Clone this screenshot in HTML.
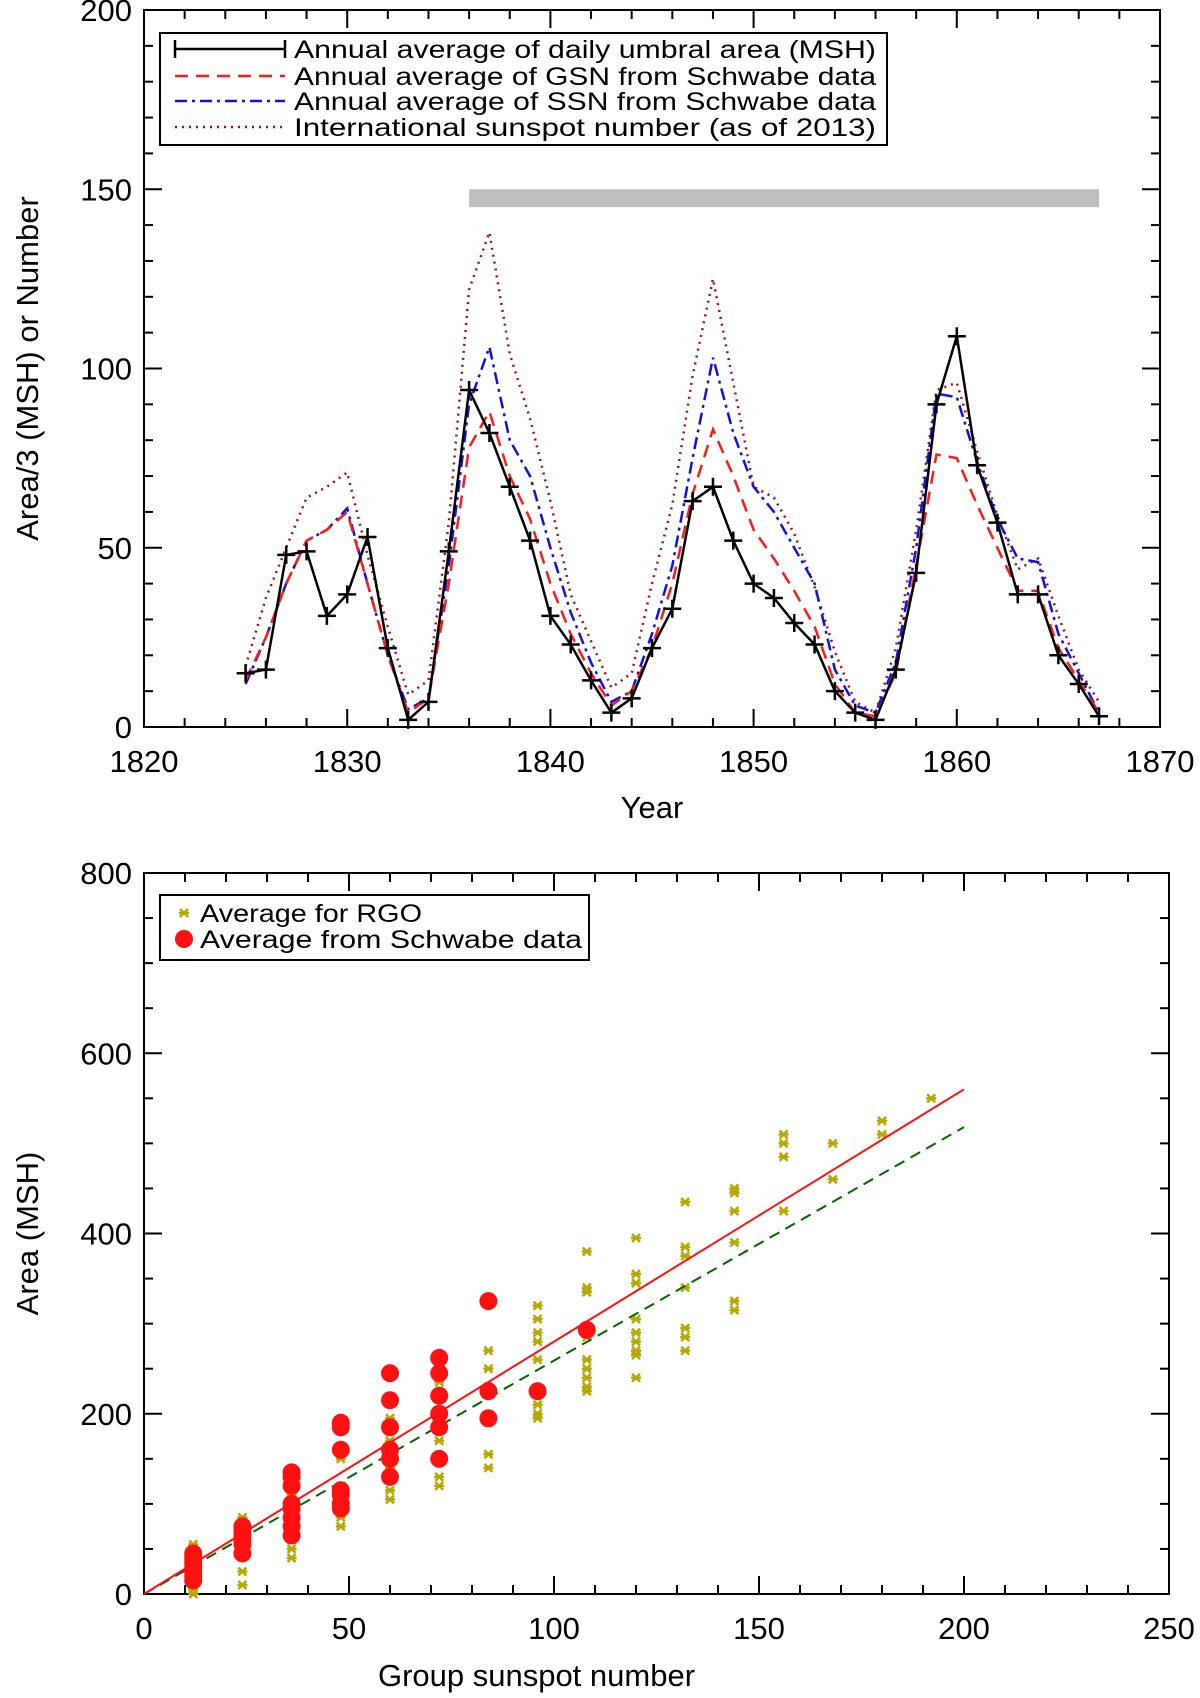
<!DOCTYPE html>
<html><head><meta charset="utf-8"><style>
html,body{margin:0;padding:0;background:#fff;}
svg{display:block;font-family:"Liberation Sans",sans-serif;}
</style></head><body>
<svg id="svg" width="1200" height="1698" xmlns="http://www.w3.org/2000/svg">
<g id="top"></g>
<g id="bot"></g>
</svg>
<script>
const years=[1825,1826,1827,1828,1829,1830,1831,1832,1833,1834,1835,1836,1837,1838,1839,1840,1841,1842,1843,1844,1845,1846,1847,1848,1849,1850,1851,1852,1853,1854,1855,1856,1857,1858,1859,1860,1861,1862,1863,1864,1865,1866,1867];
const umbralArea=[15,16,48,49,31,37,53,22,2,7,49,94,82,67,52,31,23,13,4,8,22,33,63,67,52,40,36,29,23,10,4,2,16,43,90,109,73,57,37,37,20,12,3];
const gsn=[13,25,40,52,55,60,40,20,4,8,40,78,88,70,58,40,26,15,6,10,22,40,65,83,70,55,47,38,28,12,4,3,15,45,76,75,62,50,38,38,22,13,4];
const ssn=[12,25,40,52,55,61,40,20,5,8,45,90,106,80,70,50,32,18,7,10,26,45,75,103,82,67,60,50,40,16,6,4,18,50,93,92,74,58,47,46,26,15,4];
const isn=[17,36,50,64,67,71,48,28,9,13,57,122,138,104,86,63,37,24,11,15,40,62,98,125,96,67,64,54,39,21,7,4,22,55,94,96,77,59,44,47,31,16,7];
const topXTicks=[1820,1830,1840,1850,1860,1870];
const topYTicks=[0,50,100,150,200];
const rgoX=[12,12,12,12,12,12,24,24,24,24,24,24,36,36,36,36,36,48,48,48,48,48,60,60,60,60,60,72,72,72,72,72,84,84,84,84,84,84,96,96,96,96,96,96,96,96,108,108,108,108,108,108,108,108,108,120,120,120,120,120,120,120,120,120,132,132,132,132,132,132,132,144,144,144,144,144,144,156,156,156,156,168,168,180,180,192];
const rgoY=[0,5,20,30,45,55,10,25,45,60,75,85,40,50,60,80,110,75,85,100,120,150,105,115,140,170,195,120,130,150,170,235,140,155,190,230,250,270,195,200,210,260,280,290,305,320,225,230,240,250,260,285,335,340,380,240,265,270,280,290,305,345,355,395,270,285,295,340,375,385,435,315,325,390,425,445,450,425,485,500,510,460,500,510,525,550];
const schX=[12,12,12,12,12,12,12,24,24,24,24,24,24,36,36,36,36,36,36,36,36,48,48,48,48,48,48,48,60,60,60,60,60,60,72,72,72,72,72,72,84,84,84,96,108];
const schY=[15,20,25,30,35,40,45,45,55,60,65,70,75,65,75,85,95,100,120,130,135,95,100,110,115,160,185,190,130,150,160,185,215,245,150,185,200,220,245,262,195,225,325,225,293];
const fitSlopes=[2.8,2.59];
const botXTicks=[0,50,100,150,200,250];
const botYTicks=[0,200,400,600,800];
const NS="http://www.w3.org/2000/svg";
function mk(parent,tag,attrs,text){const e=document.createElementNS(NS,tag);for(const k in attrs)e.setAttribute(k,attrs[k]);if(text!==undefined)e.textContent=text;parent.appendChild(e);return e;}

// ---------- top chart ----------
const T=document.getElementById('top');
const tL=144,tR=1160,tT=10,tB=727;
const tx=v=>tL+(v-1820)/50*(tR-tL);
const ty=v=>tB-(v/200)*(tB-tT);
let r=mk(T,'rect',{x:tL,y:tT,width:tR-tL,height:tB-tT,fill:'none',stroke:'#000','stroke-width':2});


for(let y=1820;y<=1870;y+=2){const big=y%10===0;const l=big?18:9;
 mk(T,'line',{x1:tx(y),x2:tx(y),y1:tB,y2:tB-l,stroke:'#000','stroke-width':2});
 mk(T,'line',{x1:tx(y),x2:tx(y),y1:tT,y2:tT+l,stroke:'#000','stroke-width':2});}
for(let v=0;v<=200;v+=10){const big=v%50===0;const l=big?18:9;
 mk(T,'line',{x1:tL,x2:tL+l,y1:ty(v),y2:ty(v),stroke:'#000','stroke-width':2});
 mk(T,'line',{x1:tR,x2:tR-l,y1:ty(v),y2:ty(v),stroke:'#000','stroke-width':2});}
topXTicks.forEach(v=>{const t=mk(T,'text',{x:tx(v),y:tB+45,'text-anchor':'middle','font-size':31,fill:'#000'},String(v));
 
 });
topYTicks.forEach(v=>{const t=mk(T,'text',{x:tL-12,y:ty(v)+11,'text-anchor':'end','font-size':31,fill:'#000'},String(v));
 
 });
let t=mk(T,'text',{x:(tL+tR)/2,y:tB+91,'text-anchor':'middle','font-size':31,fill:'#000'},'Year');


t=mk(T,'text',{x:0,y:0,transform:`translate(38,${ty(100)}) rotate(-90)`,'text-anchor':'middle','font-size':31,fill:'#000'},'Area/3 (MSH) or Number');


// gray bar
r=mk(T,'rect',{x:tx(1836),y:ty(150),width:tx(1867)-tx(1836),height:ty(145)-ty(150),fill:'#bebebe'});


function series(arr,attrs,name){const p=arr.map((v,i)=>`${i?'L':'M'}${tx(years[i]).toFixed(1)},${ty(v).toFixed(1)}`).join('');
 const e=mk(T,'path',Object.assign({d:p,fill:'none'},attrs));
 
 return e;}
series(isn,{stroke:'#a01010','stroke-width':2.5,'stroke-dasharray':'2 5'},'isn-line');
series(ssn,{stroke:'#1010e0','stroke-width':2.5,'stroke-dasharray':'12 5 3 5'},'ssn-line');
series(gsn,{stroke:'#ff1a1a','stroke-width':2.5,'stroke-dasharray':'13 8'},'gsn-line');
series(umbralArea,{stroke:'#000','stroke-width':2.5},'umbral-area-line');
umbralArea.forEach((v,i)=>{const x=tx(years[i]),y=ty(v);
 const m=mk(T,'path',{d:`M${x-9},${y}H${x+9}M${x},${y-9}V${y+9}`,stroke:'#000','stroke-width':2.5});
 
 });
// legend
const lg=mk(T,'g',{});


mk(lg,'rect',{x:160,y:33,width:727,height:112,fill:'#fff',stroke:'#000','stroke-width':2});
const lrows=[49,76,101,127];
const ltxt=['Annual average of daily umbral area (MSH)','Annual average of GSN from Schwabe data','Annual average of SSN from Schwabe data','International sunspot number (as of 2013)'];
const lsty=[{stroke:'#000'},{stroke:'#ff1a1a','stroke-dasharray':'13 8'},{stroke:'#1010e0','stroke-dasharray':'12 5 3 5'},{stroke:'#a01010','stroke-dasharray':'2 5'}];
lrows.forEach((y,i)=>{mk(lg,'line',Object.assign({x1:175,x2:285,y1:y,y2:y,'stroke-width':2.5},lsty[i]));
 const tt=mk(lg,'text',{x:294,y:y+9,'font-size':25,textLength:582,lengthAdjust:'spacingAndGlyphs',fill:'#000'},ltxt[i]);
 
 });
mk(lg,'path',{d:'M175,40V58M285,40V58',stroke:'#000','stroke-width':2.5});

// ---------- bottom chart ----------
const B=document.getElementById('bot');
const bL=144,bR=1169,bT=873,bB=1594;
const bx=v=>bL+v/250*(bR-bL);
const by=v=>bB-v/800*(bB-bT);
r=mk(B,'rect',{x:bL,y:bT,width:bR-bL,height:bB-bT,fill:'none',stroke:'#000','stroke-width':2});


for(let v=0;v<=250;v+=10){const big=v%50===0;const l=big?18:9;
 mk(B,'line',{x1:bx(v),x2:bx(v),y1:bB,y2:bB-l,stroke:'#000','stroke-width':2});
 mk(B,'line',{x1:bx(v),x2:bx(v),y1:bT,y2:bT+l,stroke:'#000','stroke-width':2});}
for(let v=0;v<=800;v+=50){const big=v%200===0;const l=big?18:9;
 mk(B,'line',{x1:bL,x2:bL+l,y1:by(v),y2:by(v),stroke:'#000','stroke-width':2});
 mk(B,'line',{x1:bR,x2:bR-l,y1:by(v),y2:by(v),stroke:'#000','stroke-width':2});}
botXTicks.forEach(v=>{const t=mk(B,'text',{x:bx(v),y:bB+45,'text-anchor':'middle','font-size':31,fill:'#000'},String(v));
 
 });
botYTicks.forEach(v=>{const t=mk(B,'text',{x:bL-12,y:by(v)+11,'text-anchor':'end','font-size':31,fill:'#000'},String(v));
 
 });
t=mk(B,'text',{x:(bL+bR)/2-120,y:bB+92,'text-anchor':'middle','font-size':31,fill:'#000'},'Group sunspot number');


t=mk(B,'text',{x:0,y:0,transform:`translate(38,${by(400)}) rotate(-90)`,'text-anchor':'middle','font-size':31,fill:'#000'},'Area (MSH)');


rgoX.forEach((x0,i)=>{const x=bx(x0),y=by(rgoY[i]);
 const m=mk(B,'path',{d:`M${x-4},${y-4}L${x+4},${y+4}M${x-4},${y+4}L${x+4},${y-4}M${x-5},${y}H${x+5}`,stroke:'#b5a800','stroke-width':2.5});
 
 });
let fl=mk(B,'line',{x1:bx(0),y1:by(0),x2:bx(200),y2:by(200*fitSlopes[1]),stroke:'#006400','stroke-width':2,'stroke-dasharray':'11 7'});


schX.forEach((x0,i)=>{const c=mk(B,'circle',{cx:bx(x0),cy:by(schY[i]),r:9,fill:'#ff1010'});
 
 });
fl=mk(B,'line',{x1:bx(0),y1:by(0),x2:bx(200),y2:by(200*fitSlopes[0]),stroke:'#ff1010','stroke-width':2});


const lg2=mk(B,'g',{});


mk(lg2,'rect',{x:160,y:895,width:429,height:65,fill:'#fff',stroke:'#000','stroke-width':2});
mk(lg2,'path',{d:'M180,909L188,917M180,917L188,909M179,913H189',stroke:'#b5a800','stroke-width':2.5});
mk(lg2,'circle',{cx:184,cy:939,r:9,fill:'#ff1010'});
t=mk(lg2,'text',{x:200,y:922,'font-size':25,textLength:222,lengthAdjust:'spacingAndGlyphs',fill:'#000'},'Average for RGO');


t=mk(lg2,'text',{x:200,y:948,'font-size':25,textLength:382,lengthAdjust:'spacingAndGlyphs',fill:'#000'},'Average from Schwabe data');


</script>
</body></html>
